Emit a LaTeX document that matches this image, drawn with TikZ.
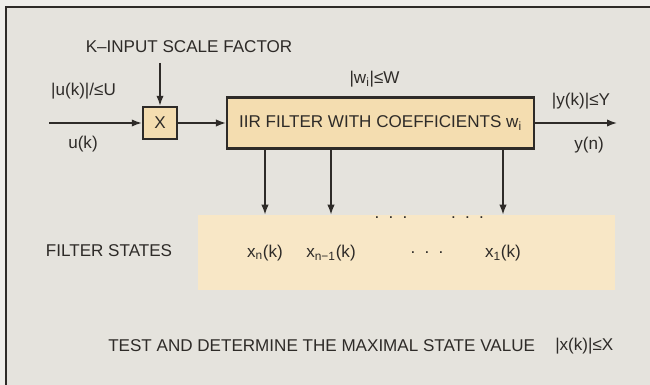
\documentclass[tikz,border=0pt]{standalone}
\usepackage{fontspec}
\setmainfont{Liberation Sans}
\usetikzlibrary{arrows.meta,positioning}
\definecolor{paper}{HTML}{EFEEEA}
\definecolor{panel}{HTML}{E5E3DD}
\definecolor{tan}{HTML}{F4DDB0}
\definecolor{pale}{HTML}{F8E7C6}
\definecolor{ink}{HTML}{2E2B28}

\begin{document}
\begin{tikzpicture}[x=0.75pt, y=-0.75pt,
    txt/.style={text=ink, font=\fontsize{12.8}{14}\selectfont, inner sep=0pt},
    blk/.style={draw=ink, line width=1.8pt, fill=tan, txt},
    arr/.style={-{Latex[length=7.5pt,width=5.5pt]}, line width=1.1pt, draw=ink}
]
\fill[paper] (0,0) rectangle (650,385);
\useasboundingbox (0,0) rectangle (650,385);
\fill[panel] (6,7) rectangle (650,385);
\draw[ink, line width=1.4pt] (6,385) -- (6,7) -- (650,7);

\node[txt] (kscale) at (189,47) {K–INPUT SCALE FACTOR};
\node[blk, minimum width=25.5pt, minimum height=24pt] (mult) at (160,123) {X};
\node[blk, minimum width=230pt, minimum height=38pt] (iir) at (380.5,123) {IIR FILTER WITH COEFFICIENTS w\textsubscript{i}};
\coordinate (kin) at (160,63);
\coordinate (uin) at (49,123);
\coordinate (yout) at (617,123);

\node[txt] (ubound) at (83.5,91) {|u(k)|/≤U};
\node[txt] (uk) at (83,144) {u(k)};
\node[txt] (wbound) at (374.5,79) {|w\textsubscript{i}|≤W};
\node[txt] (ybound) at (581,101) {|y(k)|≤Y};
\node[txt] (yn) at (589,145) {y(n)};

\node[fill=pale, minimum width=312.75pt, minimum height=56.25pt] (states) at (406.5,252.5) {};
\node[txt] (fstates) at (109,251) {FILTER STATES};
\node[txt] (xn) at (265,253) {x\textsubscript{n}(k)};
\node[txt] (xnm) at (331,253) {x\textsubscript{n−1}(k)};
\node[txt] (xdots) at (427,253) {.\hspace{7pt}.\hspace{7pt}.};
\node[txt] (x1) at (503,253) {x\textsubscript{1}(k)};
\node[txt] (topdotsa) at (391,218) {.\hspace{7pt}.\hspace{7pt}.};
\node[txt] (topdotsb) at (467.5,218) {.\hspace{7pt}.\hspace{7pt}.};

\node[txt, anchor=west] (test) at (108,346) {TEST AND DETERMINE THE MAXIMAL STATE VALUE};
\node[txt, anchor=west] (xbound) at (555,346) {|x(k)|≤X};

\draw[arr] (kin) -- (mult);
\draw[arr] (uin) -- (mult);
\draw[arr] (mult) -- (iir);
\draw[arr] (iir) -- (yout);
\draw[arr] (xn |- iir.south) -- (xn |- states.north);
\draw[arr] (xnm |- iir.south) -- (xnm |- states.north);
\draw[arr] (x1 |- iir.south) -- (x1 |- states.north);
\end{tikzpicture}
\end{document}
